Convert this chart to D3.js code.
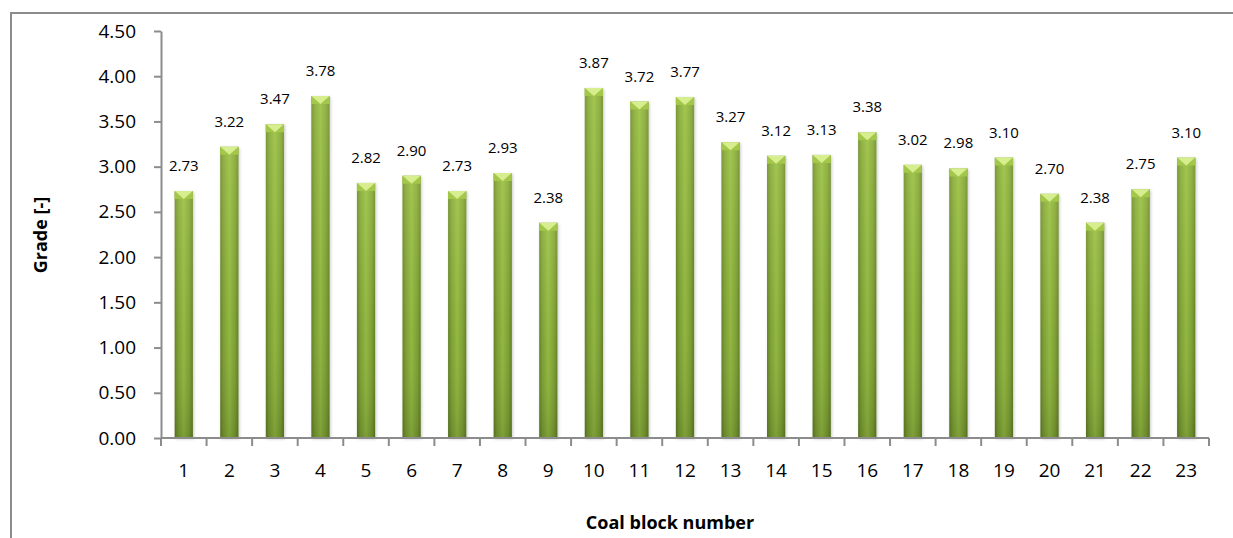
<!DOCTYPE html>
<html>
<head>
<meta charset="utf-8">
<script src="https://cdn.jsdelivr.net/npm/d3@7"></script>
<style>
  html, body { margin: 0; background: #fff; overflow: hidden; }
  svg { display: block; font-family: "Open Sans", "Liberation Sans", sans-serif; }
</style>
</head>
<body>
<div id="chart"></div>
<script>
var blocks = ["1","2","3","4","5","6","7","8","9","10","11","12","13","14","15","16","17","18","19","20","21","22","23"];
var grades = [2.73, 3.22, 3.47, 3.78, 2.82, 2.90, 2.73, 2.93, 2.38, 3.87, 3.72, 3.77, 3.27, 3.12, 3.13, 3.38, 3.02, 2.98, 3.10, 2.70, 2.38, 2.75, 3.10];
var yTicks = [0, 0.5, 1, 1.5, 2, 2.5, 3, 3.5, 4, 4.5];

var W = 1233, H = 538;
var margin = {top: 31, left: 161},
    width = 1209 - margin.left,
    height = 438 - margin.top;

var svg = d3.select("#chart")
    .append("svg")
    .attr("width", W)
    .attr("height", H);

// outer chart frame: only top and left edges are in the picture
svg.append("path")
  .attr("d", "M11," + H + "V13H" + W)
  .attr("fill", "none")
  .attr("stroke", "#8c8c8c")
  .attr("stroke-width", 2);

var defs = svg.append("defs");
var grad = defs.append("linearGradient")
  .attr("id", "barGrad")
  .attr("x1", "0%").attr("x2", "100%").attr("y1", "0%").attr("y2", "0%");
grad.append("stop").attr("offset", "0%").attr("stop-color", "#5f7c25");
grad.append("stop").attr("offset", "18%").attr("stop-color", "#789b31");
grad.append("stop").attr("offset", "50%").attr("stop-color", "#8fb53f");
grad.append("stop").attr("offset", "82%").attr("stop-color", "#789b31");
grad.append("stop").attr("offset", "100%").attr("stop-color", "#5f7c25");

var vgrad = defs.append("linearGradient")
  .attr("id", "barShade")
  .attr("x1", "0%").attr("x2", "0%").attr("y1", "0%").attr("y2", "100%");
vgrad.append("stop").attr("offset", "0%").attr("stop-color", "#e8ff90").attr("stop-opacity", 0.22);
vgrad.append("stop").attr("offset", "60%").attr("stop-color", "#e8ff90").attr("stop-opacity", 0.04);
vgrad.append("stop").attr("offset", "100%").attr("stop-color", "#000").attr("stop-opacity", 0.12);

var shadow = defs.append("filter").attr("id", "shadow")
  .attr("x", "-50%").attr("y", "-10%").attr("width", "200%").attr("height", "120%");
shadow.append("feDropShadow")
  .attr("dx", 1).attr("dy", 1).attr("stdDeviation", 1.5)
  .attr("flood-color", "#000").attr("flood-opacity", 0.22);

var g = svg.append("g")
  .attr("transform", "translate(" + margin.left + "," + margin.top + ")");

var x = d3.scaleBand()
  .range([0, width])
  .domain(blocks)
  .paddingInner(0.6)
  .paddingOuter(0.3);

var y = d3.scaleLinear()
  .domain([0, 4.5])
  .range([height, 0]);

// Bars
var bw = x.bandwidth();
var bars = g.selectAll(".bar")
  .data(blocks)
  .enter()
  .append("g")
  .attr("class", "bar");

bars.append("rect")
  .attr("x", function(d) { return x(d); })
  .attr("y", function(d, i) { return y(grades[i]); })
  .attr("width", bw)
  .attr("height", function(d, i) { return height - y(grades[i]); })
  .attr("fill", "url(#barGrad)")
  .attr("filter", "url(#shadow)");

bars.append("rect")
  .attr("x", function(d) { return x(d); })
  .attr("y", function(d, i) { return y(grades[i]); })
  .attr("width", bw)
  .attr("height", function(d, i) { return height - y(grades[i]); })
  .attr("fill", "url(#barShade)");

// bevelled top cap
bars.append("path")
  .attr("d", function(d, i) {
    var x0 = x(d), yt = y(grades[i]);
    return "M" + x0 + "," + yt + "L" + (x0 + bw / 2) + "," + (yt + 8) + "L" + x0 + "," + (yt + 8) + "Z"
      + "M" + (x0 + bw) + "," + yt + "L" + (x0 + bw / 2) + "," + (yt + 8) + "L" + (x0 + bw) + "," + (yt + 8) + "Z";
  })
  .attr("fill", "#a3c749");
bars.append("path")
  .attr("d", function(d, i) {
    var x0 = x(d), yt = y(grades[i]);
    return "M" + x0 + "," + yt + "L" + (x0 + bw) + "," + yt + "L" + (x0 + bw / 2) + "," + (yt + 8) + "Z";
  })
  .attr("fill", "#d7ee8e");

// value labels
g.selectAll(".lbl")
  .data(blocks)
  .enter()
  .append("text")
  .attr("x", function(d) { return x(d) + bw / 2; })
  .attr("y", function(d, i) { return y(grades[i]) - 20; })
  .attr("text-anchor", "middle")
  .style("font-size", "15px")
  .style("fill", "#000")
  .text(function(d, i) { return grades[i].toFixed(2); });

// Y axis
var yAxis = g.append("g")
  .call(d3.axisLeft(y).tickValues(yTicks).tickSize(7).tickSizeOuter(0)
    .tickFormat(function(d) { return d.toFixed(2); }));
yAxis.select(".domain").attr("stroke", "#8c8c8c").attr("stroke-width", 2);
yAxis.selectAll(".tick line").attr("stroke", "#8c8c8c").attr("stroke-width", 2);
yAxis.selectAll(".tick text")
  .attr("x", -25)
  .style("font-size", "19px")
  .style("font-family", "'Open Sans', sans-serif")
  .style("fill", "#000");

// X axis line with ticks at category boundaries
var xAxis = g.append("g").attr("transform", "translate(0," + height + ")");
xAxis.append("line")
  .attr("x1", 0).attr("x2", width)
  .attr("stroke", "#8c8c8c").attr("stroke-width", 2);
var step = x.step();
xAxis.selectAll(".bt")
  .data(d3.range(blocks.length + 1))
  .enter()
  .append("line")
  .attr("x1", function(i) { return i * step; })
  .attr("x2", function(i) { return i * step; })
  .attr("y1", 0).attr("y2", 8)
  .attr("stroke", "#8c8c8c").attr("stroke-width", 2);
xAxis.selectAll(".xl")
  .data(blocks)
  .enter()
  .append("text")
  .attr("x", function(d) { return x(d) + bw / 2; })
  .attr("y", 39)
  .attr("text-anchor", "middle")
  .style("font-size", "19px")
  .style("fill", "#000")
  .text(function(d) { return d; });

// axis titles
svg.append("text")
  .attr("x", 670)
  .attr("y", 529)
  .attr("text-anchor", "middle")
  .style("font-size", "18px")
  .style("font-weight", "bold")
  .text("Coal block number");

svg.append("text")
  .attr("transform", "translate(47," + 235 + ") rotate(-90)")
  .attr("text-anchor", "middle")
  .style("font-size", "18px")
  .style("font-weight", "bold")
  .text("Grade [-]");
</script>
</body>
</html>
